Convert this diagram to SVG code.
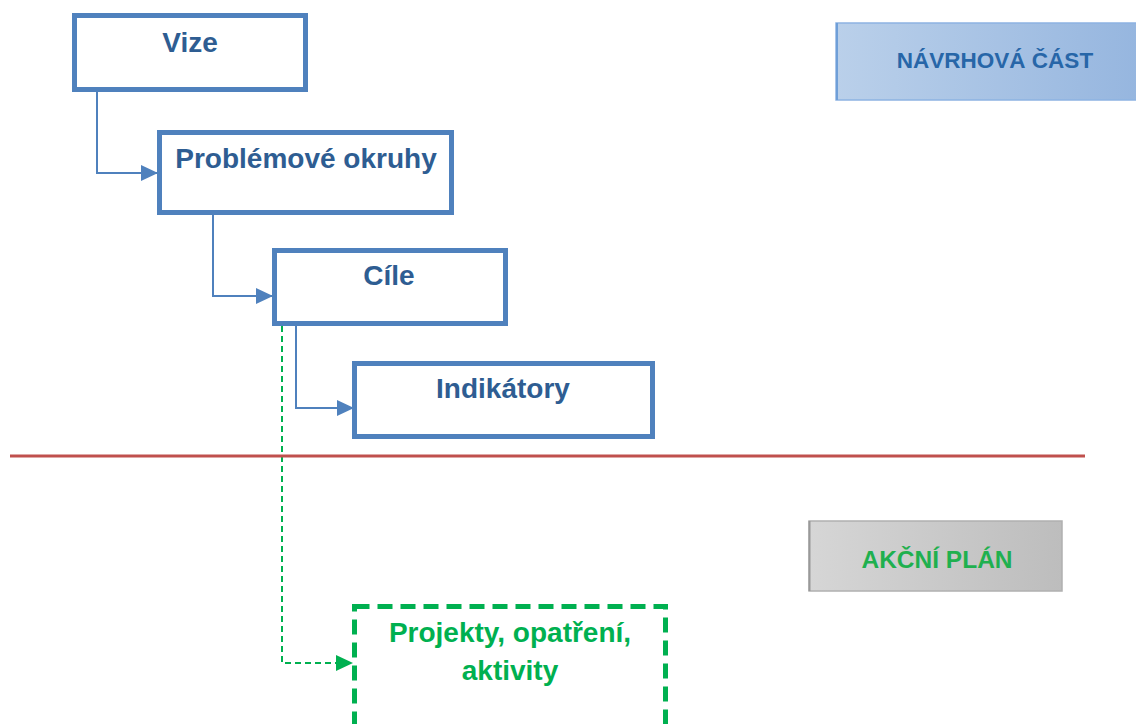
<svg xmlns="http://www.w3.org/2000/svg" width="1136" height="724" viewBox="0 0 1136 724">
<style>
.box{fill:#fff;stroke:#4f81bd;stroke-width:5}
.t{font-family:"Liberation Sans",Arial,sans-serif;font-weight:bold;text-anchor:middle}
.bt{fill:#2e5d92;font-size:28px}
.conn{fill:none;stroke:#4f81bd;stroke-width:2}
.gconn{fill:none;stroke:#00b050;stroke-width:2;stroke-dasharray:6 4}
</style>
<defs>
<marker id="ab" markerUnits="userSpaceOnUse" markerWidth="17" markerHeight="16" refX="16" refY="8" orient="auto"><path d="M0,0 L17,8 L0,16 Z" fill="#4f81bd"/></marker>
<marker id="ag" markerUnits="userSpaceOnUse" markerWidth="17" markerHeight="16" refX="16" refY="8" orient="auto"><path d="M0,0 L17,8 L0,16 Z" fill="#00b050"/></marker>
<linearGradient id="gb" x1="0" y1="0" x2="1" y2="0"><stop offset="0" stop-color="#bad0ea"/><stop offset="1" stop-color="#96b6df"/></linearGradient>
<linearGradient id="gg" x1="0" y1="0" x2="1" y2="0"><stop offset="0" stop-color="#d6d6d6"/><stop offset="1" stop-color="#bdbdbd"/></linearGradient>
</defs>
<rect width="1136" height="724" fill="#fff"/>
<g id="connectors">
<path class="conn" d="M97,92 V173 H157" marker-end="url(#ab)"/>
<path class="conn" d="M213,215 V296 H272" marker-end="url(#ab)"/>
<path class="conn" d="M296,326 V408 H353" marker-end="url(#ab)"/>
<path class="gconn" d="M282,326 V663 H352" marker-end="url(#ag)"/>
</g>
<g id="divider"><line x1="10" y1="456" x2="1085" y2="456" stroke="#c0504d" stroke-width="3"/></g>
<g id="vize"><rect class="box" x="74.5" y="15.5" width="231" height="74"/><text class="t bt" x="190" y="52">Vize</text></g>
<g id="problemove"><rect class="box" x="159.5" y="132.5" width="292" height="80"/><text class="t bt" x="306" y="168">Problémové okruhy</text></g>
<g id="cile"><rect class="box" x="274.5" y="250.5" width="231" height="73"/><text class="t bt" x="389" y="285">Cíle</text></g>
<g id="indikatory"><rect class="box" x="354.5" y="363.5" width="298" height="73"/><text class="t bt" x="503" y="398">Indikátory</text></g>
<g id="projekty"><rect x="354.5" y="606.5" width="311" height="140" fill="#fff" stroke="#00b050" stroke-width="5" stroke-dasharray="15 8"/><text class="t" x="510" y="642" fill="#00b050" font-size="28">Projekty, opatření,</text><text class="t" x="510" y="680" fill="#00b050" font-size="28">aktivity</text></g>
<g id="navrhova"><rect x="836" y="23" width="302" height="77" fill="url(#gb)" stroke="#8db3e2" stroke-width="1.5"/><line x1="837" y1="23" x2="837" y2="100" stroke="#6f9fd8" stroke-width="2"/><text class="t" x="995" y="68" fill="#2766a8" font-size="22.5">NÁVRHOVÁ ČÁST</text></g>
<g id="akcni"><rect x="809" y="521" width="253" height="70" fill="url(#gg)" stroke="#b0b0b0" stroke-width="1.5"/><line x1="809.5" y1="521" x2="809.5" y2="591" stroke="#999" stroke-width="2"/><text class="t" x="937" y="568" fill="#1fb04f" font-size="24.5">AKČNÍ PLÁN</text></g>
</svg>
